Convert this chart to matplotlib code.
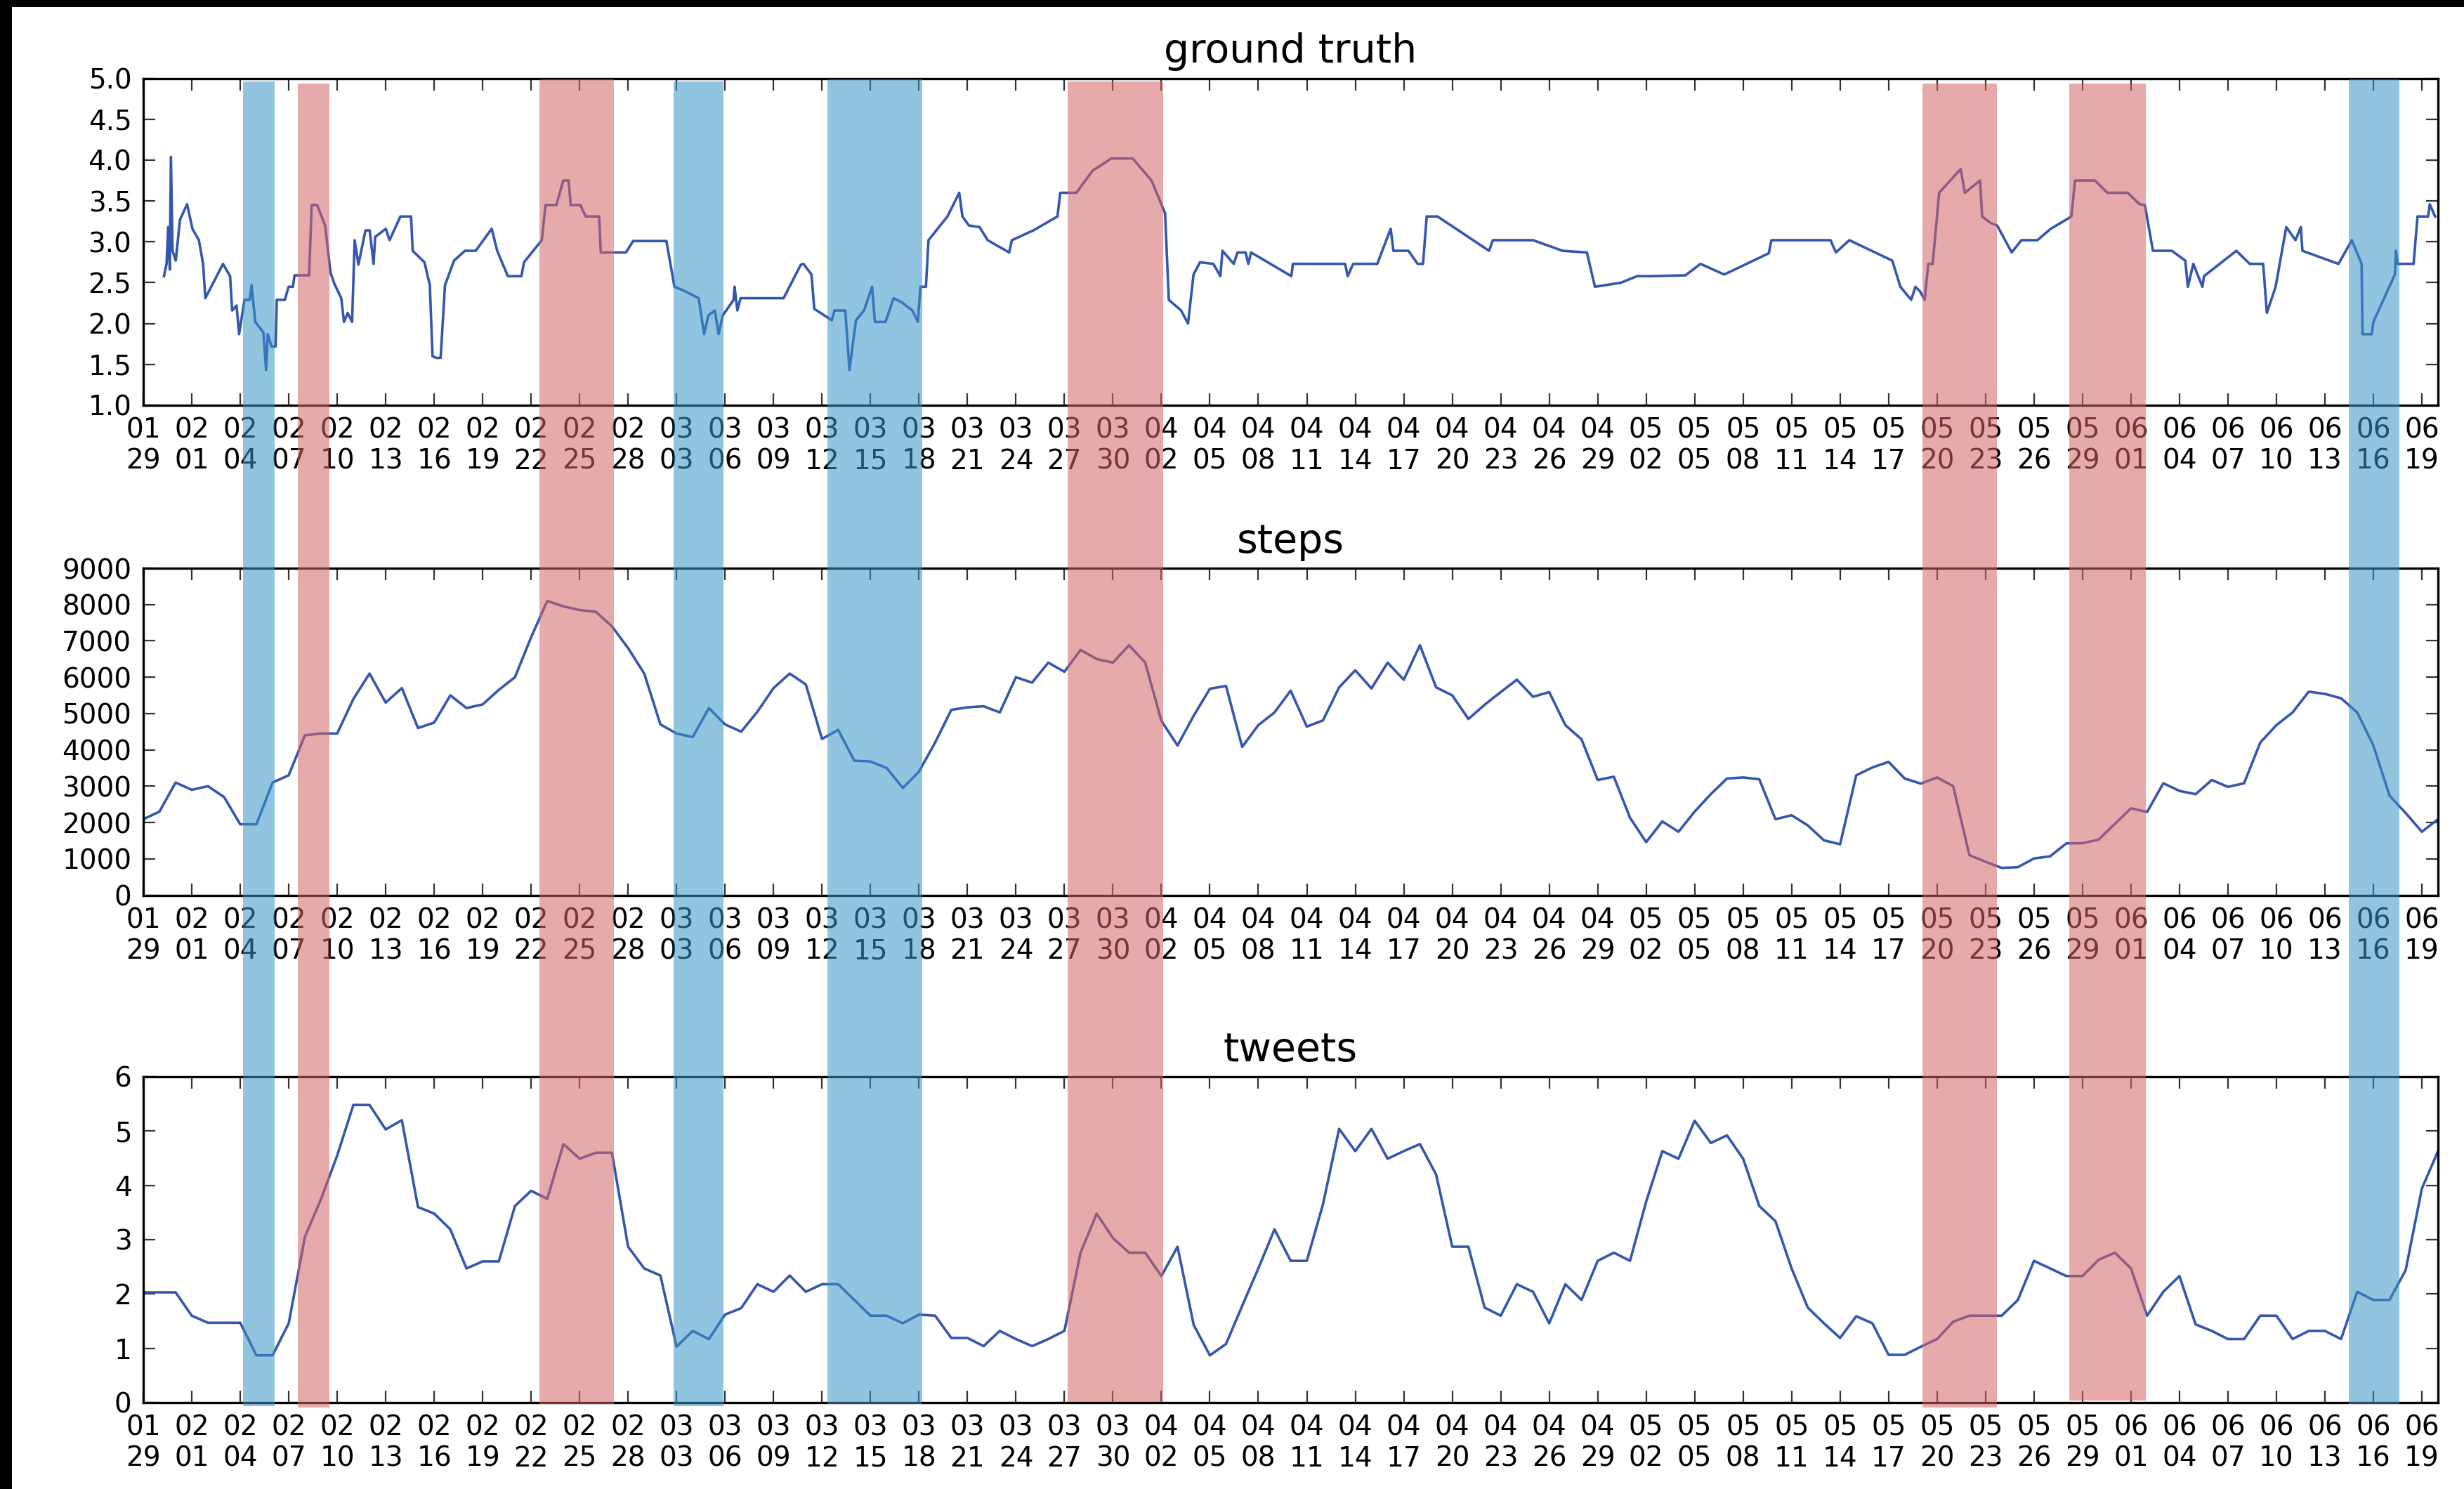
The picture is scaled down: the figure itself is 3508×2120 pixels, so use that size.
import matplotlib
matplotlib.use("Agg")
import matplotlib.pyplot as plt
import matplotlib.dates as mdates
import matplotlib.transforms as mtransforms
from matplotlib.patches import Rectangle
import numpy as np
import pandas as pd

# ---------------- data ----------------
start_date = "2015-01-29"
n_days = 143

# ground truth: (day offset from start, value), irregular sampling
gt_day = [1.28, 1.44, 1.54, 1.64, 1.71, 1.81, 2.01, 2.27, 2.71, 3.04, 3.44, 3.70, 3.84, 4.10,
          4.93, 5.37, 5.50, 5.77, 5.93, 6.26, 6.59, 6.70, 6.93, 7.43, 7.60, 7.70, 7.93, 8.19,
          8.26, 8.76, 8.99, 9.26, 9.36, 10.26, 10.42, 10.76, 11.25, 11.59, 11.82, 12.25, 12.42,
          12.65, 12.92, 13.08, 13.31, 13.75, 14.01, 14.25, 14.35, 15.01, 15.24, 15.91, 16.57,
          16.67, 17.40, 17.73, 17.90, 18.13, 18.40, 18.67, 19.23, 19.90, 20.57, 21.56, 21.90,
          22.56, 23.40, 23.56, 24.66, 24.89, 25.56, 25.99, 26.32, 26.45, 27.05, 27.38, 28.21,
          28.31, 29.87, 30.31, 32.37, 32.87, 33.37, 34.37, 34.70, 34.97, 35.37, 35.60, 35.86,
          36.53, 36.59, 36.76, 36.96, 39.62, 40.69, 40.85, 41.35, 41.52, 42.61, 42.77, 43.44,
          43.70, 44.10, 44.60, 45.10, 45.27, 45.93, 46.43, 46.93, 47.59, 47.93, 48.09, 48.43,
          48.59, 49.76, 50.49, 50.69, 51.09, 51.75, 52.25, 53.58, 53.75, 55.08, 56.57, 56.74,
          57.74, 58.74, 59.90, 61.23, 62.39, 63.23, 63.46, 64.22, 64.65, 64.99, 65.39, 66.22,
          66.65, 66.78, 67.48, 67.71, 68.21, 68.38, 68.55, 71.04, 71.14, 74.37, 74.53, 74.87,
          76.36, 77.19, 77.36, 78.29, 78.86, 79.19, 79.42, 80.09, 83.28, 83.51, 86.00, 87.83,
          89.33, 89.83, 91.44, 92.44, 93.27, 95.43, 96.36, 97.83, 100.59, 100.75, 104.41,
          104.74, 105.57, 108.23, 108.73, 109.40, 109.66, 109.96, 110.23, 110.46, 110.73,
          111.13, 112.46, 112.72, 113.66, 113.79, 114.32, 114.72, 115.62, 116.22, 117.21,
          118.04, 118.98, 119.31, 119.54, 120.77, 121.54, 122.80, 123.53, 123.86, 124.36,
          125.53, 126.36, 126.52, 126.86, 127.42, 127.52, 129.52, 130.35, 131.18, 131.41,
          131.95, 132.61, 133.18, 133.51, 133.61, 135.84, 136.67, 137.27, 137.33, 137.90,
          138.00, 139.33, 139.40, 139.50, 140.49, 140.73, 141.39, 141.49, 141.82]
gt_val = [2.58, 2.73, 3.18, 2.66, 4.04, 2.89, 2.77, 3.27, 3.46, 3.16, 3.02, 2.73, 2.31, 2.41,
          2.73, 2.58, 2.16, 2.22, 1.87, 2.29, 2.29, 2.47, 2.02, 1.89, 1.43, 1.87, 1.72, 1.72,
          2.29, 2.29, 2.45, 2.45, 2.59, 2.59, 3.45, 3.45, 3.20, 2.62, 2.49, 2.31, 2.02,
          2.13, 2.02, 3.02, 2.72, 3.14, 3.14, 2.73, 3.06, 3.16, 3.02, 3.31, 3.31,
          2.89, 2.75, 2.47, 1.60, 1.58, 1.58, 2.47, 2.77, 2.89, 2.89, 3.16, 2.89,
          2.58, 2.58, 2.75, 3.02, 3.45, 3.45, 3.75, 3.75, 3.45, 3.45, 3.31, 3.31,
          2.87, 2.87, 3.01, 3.01, 2.45, 2.41, 2.31, 1.87, 2.10, 2.16, 1.87, 2.10,
          2.29, 2.45, 2.16, 2.31, 2.31, 2.72, 2.73, 2.60, 2.18, 2.04, 2.16, 2.16,
          1.43, 2.04, 2.16, 2.45, 2.02, 2.02, 2.31, 2.26, 2.16, 2.02, 2.45, 2.45,
          3.02, 3.31, 3.60, 3.31, 3.20, 3.18, 3.02, 2.87, 3.02, 3.14, 3.31, 3.60,
          3.60, 3.87, 4.02, 4.02, 3.75, 3.35, 2.29, 2.16, 2.00, 2.60, 2.75, 2.73,
          2.58, 2.89, 2.73, 2.87, 2.87, 2.73, 2.87, 2.58, 2.73, 2.73, 2.58, 2.73,
          2.73, 3.16, 2.89, 2.89, 2.73, 2.73, 3.31, 3.31, 2.89, 3.02, 3.02, 2.89,
          2.87, 2.45, 2.50, 2.58, 2.58, 2.59, 2.73, 2.60, 2.86, 3.02, 3.02,
          2.87, 3.02, 2.77, 2.45, 2.29, 2.45, 2.39, 2.29, 2.73, 2.73,
          3.60, 3.89, 3.60, 3.75, 3.31, 3.23, 3.20, 2.87, 3.02, 3.02,
          3.16, 3.27, 3.31, 3.75, 3.75, 3.60, 3.60, 3.46, 3.45, 2.89,
          2.89, 2.77, 2.45, 2.73, 2.45, 2.58, 2.89, 2.73, 2.73, 2.13,
          2.45, 3.18, 3.02, 3.18, 2.89, 2.73, 3.02, 2.73, 1.87, 1.87,
          2.02, 2.60, 2.89, 2.73, 2.73, 3.31, 3.31, 3.46, 3.31]

# steps: daily values
steps_val = [2090, 2300, 3100, 2900, 3000, 2700, 1950, 1950, 3100, 3300,
             4400, 4450, 4450, 5400, 6100, 5300, 5700, 4600, 4750, 5500,
             5150, 5250, 5650, 6000, 7100, 8100, 7950, 7850, 7800, 7400,
             6800, 6100, 4700, 4450, 4350, 5150, 4700, 4500, 5050, 5700,
             6100, 5800, 4300, 4550, 3700, 3680, 3500, 2950, 3400, 4200,
             5100, 5170, 5200, 5030, 6000, 5850, 6400, 6150, 6750, 6500,
             6400, 6880, 6400, 4800, 4120, 4940, 5680, 5760, 4080, 4680,
             5030, 5630, 4640, 4810, 5720, 6190, 5690, 6400, 5930, 6880,
             5720, 5500, 4850, 5240, 5590, 5930, 5460, 5590, 4680, 4290,
             3170, 3260, 2130, 1460, 2030, 1745, 2300, 2780, 3210, 3240,
             3190, 2090, 2200, 1920, 1510, 1400, 3300, 3515, 3670, 3210,
             3070, 3240, 3000, 1100, 920, 750, 770, 1010, 1070, 1425,
             1430, 1530, 1960, 2390, 2290, 3080, 2870, 2780, 3170, 2980,
             3080, 4200, 4680, 5030, 5600, 5540, 5420, 5030, 4120, 2740,
             2260, 1745, 2090]

# tweets: daily values
tweets_val = [2.03, 2.03, 2.03, 1.60, 1.47, 1.47, 1.47, 0.87, 0.87, 1.46,
              3.05, 3.75, 4.55, 5.48, 5.48, 5.03, 5.20, 3.60, 3.48, 3.19,
              2.47, 2.60, 2.60, 3.62, 3.90, 3.75, 4.76, 4.49, 4.60, 4.60,
              2.87, 2.47, 2.34, 1.03, 1.32, 1.17, 1.62, 1.74, 2.18, 2.04,
              2.34, 2.04, 2.18, 2.18, 1.89, 1.60, 1.60, 1.46, 1.62, 1.60,
              1.19, 1.19, 1.04, 1.32, 1.17, 1.04, 1.17, 1.32, 2.76, 3.48,
              3.03, 2.76, 2.76, 2.33, 2.87, 1.43, 0.87, 1.08, 1.78, 2.47,
              3.19, 2.61, 2.61, 3.65, 5.04, 4.63, 5.04, 4.49, 4.63, 4.76,
              4.20, 2.87, 2.87, 1.75, 1.60, 2.18, 2.04, 1.46, 2.18, 1.89,
              2.61, 2.76, 2.61, 3.70, 4.63, 4.49, 5.19, 4.78, 4.92, 4.49,
              3.62, 3.34, 2.47, 1.75, 1.46, 1.19, 1.59, 1.46, 0.88, 0.88,
              1.03, 1.17, 1.49, 1.60, 1.60, 1.60, 1.89, 2.61, 2.47, 2.33,
              2.33, 2.63, 2.76, 2.47, 1.60, 2.04, 2.33, 1.44, 1.32, 1.17,
              1.17, 1.60, 1.60, 1.17, 1.32, 1.32, 1.17, 2.04, 1.89, 1.89,
              2.44, 3.94, 4.63]

# highlighted periods (day offsets from start)
span_start = [6.17, 9.56, 24.5, 32.8, 42.34, 57.2, 110.1, 119.2, 136.5]
span_end = [8.13, 11.52, 29.1, 35.9, 48.2, 63.1, 114.7, 123.9, 139.6]
span_kind = ["low", "high", "high", "low", "low", "high", "high", "high", "low"]

titles = ["ground truth", "steps", "tweets"]

# ---------------- style / layout ----------------
W, H = 3508, 2120
DPI = 200
span_top_px = [116, 119, 113, 116, 113, 116, 119, 119, 113]
span_bot_px = [2002, 2004, 1999, 2002, 1999, 1996, 2004, 1994, 1999]
span_colors = {"low": "#3794c5", "high": "#d56464"}
span_alpha = 0.55
line_color = "#3556ae"

plt.rcParams["font.family"] = ["DejaVu Sans"]

fig = plt.figure(figsize=(W / DPI, H / DPI), dpi=DPI, facecolor="white")

left = 204 / W
width = (3471 - 204) / W
boxes = [(111.6, 577), (809, 1274.5), (1533, 1997)]
axes = []
for (top, bot) in boxes:
    ax = fig.add_axes([left, 1 - bot / H, width, (bot - top) / H])
    axes.append(ax)

base = pd.Timestamp(start_date)
days = pd.date_range(start_date, periods=n_days, freq="D")
gt_dates = base + pd.to_timedelta(gt_day, unit="D")

axes[0].plot(gt_dates, gt_val, color=line_color, lw=1.3)
axes[1].plot(days, steps_val, color=line_color, lw=1.3)
axes[2].plot(days, tweets_val, color=line_color, lw=1.3)

ylims = [(1.0, 5.0), (0, 9000), (0, 6)]
yticks = [np.arange(1.0, 5.01, 0.5), np.arange(0, 9001, 1000), np.arange(0, 7, 1)]
tick_dates = pd.date_range(start_date, "2015-06-19", freq="3D")
xmin = mdates.date2num(base)
xmax = mdates.date2num(base + pd.Timedelta(days=142))

for ax, title, yl, yt in zip(axes, titles, ylims, yticks):
    ax.set_xlim(xmin, xmax)
    ax.set_ylim(*yl)
    ax.set_yticks(yt)
    if yl[1] == 5.0:
        ax.set_yticklabels([f"{v:.1f}" for v in yt])
    ax.set_xticks(mdates.date2num(tick_dates))
    ax.xaxis.set_major_formatter(mdates.DateFormatter("%m\n%d"))
    ax.tick_params(direction="in", top=True, right=True, length=6, width=0.8,
                   color="#333333", labelsize=14, pad=6)
    for sp in ax.spines.values():
        sp.set_linewidth(1.2)
    ax.set_title(title, fontsize=20.5, pad=8)

# highlighted periods spanning all panels
trans = mtransforms.blended_transform_factory(axes[2].transData, fig.transFigure)
for s, e, k, t, b in zip(span_start, span_end, span_kind, span_top_px, span_bot_px):
    x0 = mdates.date2num(base + pd.Timedelta(days=s))
    x1 = mdates.date2num(base + pd.Timedelta(days=e))
    rect = Rectangle((x0, 1 - b / H), x1 - x0, (b - t) / H, transform=trans,
                     facecolor=span_colors[k], edgecolor="none", alpha=span_alpha,
                     zorder=10)
    fig.add_artist(rect)

# black frame edges (top and left) as in the reference screenshot
fig.add_artist(Rectangle((0, 1 - 10 / H), 1, 10 / H, transform=fig.transFigure,
                         facecolor="black", edgecolor="none", zorder=20))
fig.add_artist(Rectangle((0, 0), 17 / W, 1, transform=fig.transFigure,
                         facecolor="black", edgecolor="none", zorder=20))

fig.savefig("out.png", dpi=DPI, facecolor="white")
